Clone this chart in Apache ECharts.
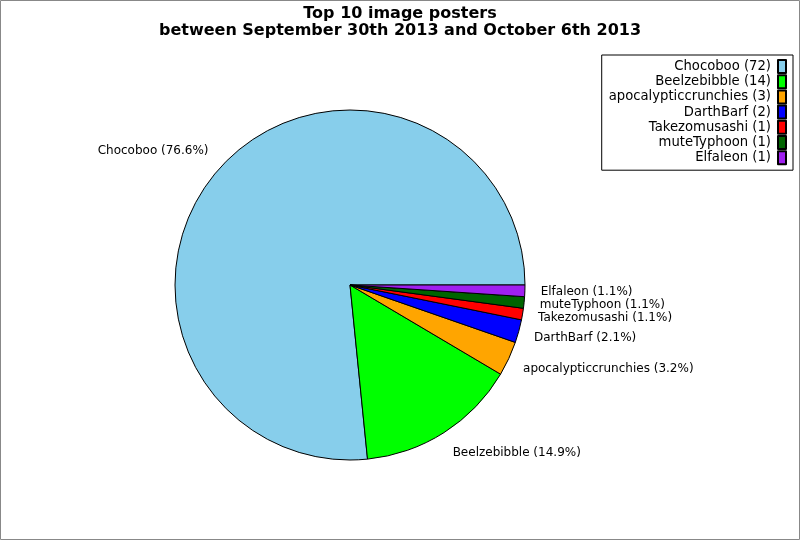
<!DOCTYPE html>
<html><head><meta charset="utf-8">
<script src="https://cdn.jsdelivr.net/npm/echarts@6/dist/echarts.min.js"></script>
<style>html,body{margin:0;padding:0;background:#fff}#c{width:800px;height:540px}</style>
</head><body><div id="c"></div>
<script>
const names = ['Chocoboo','Beelzebibble','apocalypticcrunchies','DarthBarf','Takezomusashi','muteTyphoon','Elfaleon'];
const counts = [72,14,3,2,1,1,1];
const colors = ['#87CEEB','#00FF00','#FFA500','#0000FF','#FF0000','#006400','#A020F0'];
const titleText = 'Top 10 image posters\nbetween September 30th 2013 and October 6th 2013';

const total = counts.reduce((a,b)=>a+b,0);
const data = names.map((n,i)=>({name:n, value:counts[i], itemStyle:{color:colors[i]}}));
const CX = 350, CY = 285, R = 175;
// mid-angle of each slice (counter-clockwise from east), from the data
const cum = [];
counts.reduce((a,v,i)=>{cum[i]=(a+v/2)/total*2*Math.PI; return a+v;},0);

const chart = echarts.init(document.getElementById('c'));
const font = 'DejaVu Sans';
chart.setOption({
  animation:false,
  textStyle:{fontFamily:font},
  title:{text:titleText, left:'center', top:0,
    textStyle:{fontFamily:font, fontWeight:'bold', fontSize:16, lineHeight:17, color:'#000'}},
  legend:{orient:'vertical', right:7, top:55, align:'right', icon:'rect',
    itemWidth:8, itemHeight:13, itemGap:0.2,
    borderColor:'#000', borderWidth:1, padding:[4,6,5,7],
    textStyle:{fontFamily:font, fontSize:13.2, lineHeight:15, color:'#000', padding:[0,2,0,0]},
    formatter:n=>n+' ('+counts[names.indexOf(n)]+')',
    data:names},
  graphic:[{type:'rect', shape:{x:0.5,y:0.5,width:799,height:539}, style:{fill:'none', stroke:'#888', lineWidth:1}, silent:true}],
  series:[{type:'pie', center:[CX,CY], radius:R, startAngle:0, clockwise:false,
    data:data,
    itemStyle:{borderColor:'#000', borderWidth:1},
    label:{show:true, position:'outside', fontFamily:font, fontSize:12, color:'#000',
      formatter:p=>p.name+' ('+(p.value/total*100).toFixed(1)+'%)'},
    labelLine:{show:false, length:10, length2:6},
    labelLayout:function(p){
      const a = cum[p.dataIndex];
      const c = Math.cos(a), s = Math.sin(a);
      return {x: CX + 1.09*R*c, y: CY - 1.14*R*s,
        align: c >= 0 ? 'left' : 'right', verticalAlign:'middle'};
    },
    emphasis:{disabled:true}
  }]
});
</script></body></html>
